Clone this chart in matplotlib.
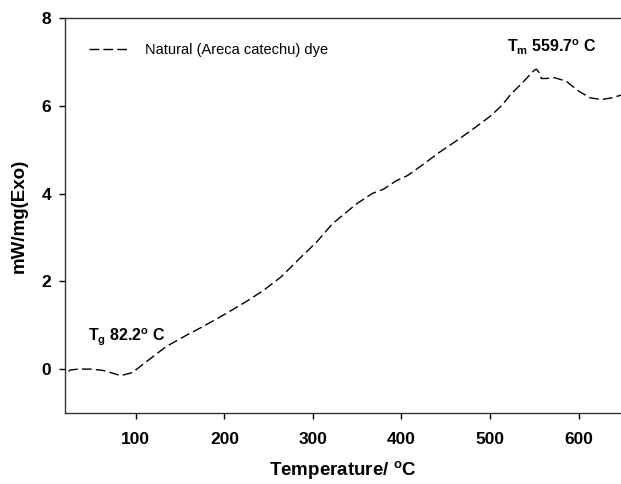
import matplotlib
matplotlib.use("Agg")
import matplotlib.pyplot as plt

fam = "Liberation Sans"
plt.rcParams['font.family'] = [fam, 'DejaVu Sans']
plt.rcParams['mathtext.fontset'] = 'custom'
plt.rcParams['mathtext.rm'] = fam
plt.rcParams['mathtext.bf'] = fam + ':bold'
plt.rcParams['mathtext.it'] = fam + ':italic'

temperature = [24, 26, 35, 49.5, 63, 75, 83, 96, 112, 134, 157, 175, 201.5, 224, 244, 264,
               286.5, 304, 322, 349, 367, 380, 394, 407, 425, 443, 465, 483, 501, 514.5,
               523.5, 537, 550, 552.6, 555.7, 558, 563.6, 572.7, 586, 599.6, 613, 626,
               637.6, 648]
heat_flow = [-0.05, -0.02, 0.0, 0.0, -0.03, -0.1, -0.15, -0.08, 0.17, 0.51, 0.77, 0.96,
             1.26, 1.53, 1.79, 2.10, 2.55, 2.89, 3.31, 3.76, 4.0, 4.10, 4.29, 4.41, 4.67,
             4.94, 5.24, 5.50, 5.77, 6.03, 6.26, 6.53, 6.81, 6.83, 6.75, 6.62, 6.62, 6.64,
             6.56, 6.34, 6.18, 6.14, 6.18, 6.24]
x_ticks = [100, 200, 300, 400, 500, 600]
y_ticks = [0, 2, 4, 6, 8]

fig = plt.figure(figsize=(6.21, 4.84), dpi=100)
ax = fig.add_axes([0.1047, 0.1467, 0.8953, 0.8163])
ax.plot(temperature, heat_flow, color='black', lw=1.0, dashes=(7, 3),
        label='Natural (Areca catechu) dye')
ax.set_xlim(20, 648)
ax.set_ylim(-1, 8)
ax.set_xticks(x_ticks)
ax.set_yticks(y_ticks)
for lab in ax.get_xticklabels() + ax.get_yticklabels():
    lab.set_fontweight('bold')
    lab.set_fontsize(12.5)
ax.tick_params(direction='out', length=4, width=1, pad=10)
ax.tick_params(axis='y', pad=6)
ax.spines['right'].set_visible(False)
for s in ['left', 'bottom', 'top']:
    ax.spines[s].set_linewidth(1.0)
    ax.spines[s].set_color('#333333')

ax.set_xlabel(r'Temperature/ $^\mathbf{o}$C', fontsize=13.5, fontweight='bold', labelpad=8)
ax.set_ylabel('mW/mg(Exo)', fontsize=13.5, fontweight='bold', labelpad=10)

ax.text(46, 0.63, r'$\mathbf{T_g}$ 82.2$^\mathbf{o}$ C', fontsize=11.5, fontweight='bold')
ax.text(519, 7.22, r'$\mathbf{T_m}$ 559.7$^\mathbf{o}$ C', fontsize=11.5, fontweight='bold')

leg = ax.legend(loc='upper left', bbox_to_anchor=(0.02, 0.97), frameon=False,
                fontsize=10.5, handlelength=2.8, handletextpad=1.0)

fig.savefig('out.png', dpi=100)
